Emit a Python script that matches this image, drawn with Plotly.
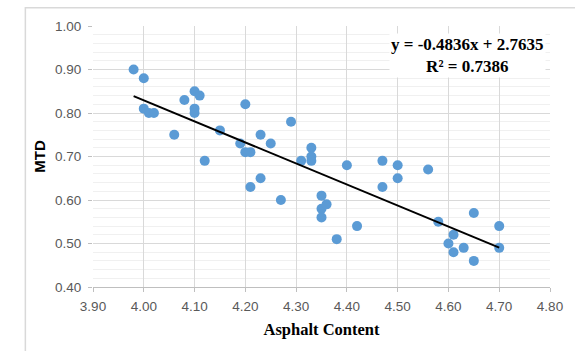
import plotly.graph_objects as go
import numpy as np

asphalt = [3.98, 4.00, 4.00, 4.01, 4.02, 4.06, 4.08, 4.10, 4.11, 4.10, 4.10, 4.12, 4.15,
           4.19, 4.20, 4.20, 4.21, 4.21, 4.23, 4.23, 4.25, 4.27, 4.29, 4.31, 4.33, 4.33,
           4.33, 4.35, 4.35, 4.35, 4.36, 4.38, 4.40, 4.42, 4.47, 4.47, 4.50, 4.50, 4.56,
           4.58, 4.60, 4.61, 4.61, 4.63, 4.65, 4.65, 4.70, 4.70]
mtd = [0.90, 0.88, 0.81, 0.80, 0.80, 0.75, 0.83, 0.85, 0.84, 0.81, 0.80, 0.69, 0.76,
       0.73, 0.82, 0.71, 0.71, 0.63, 0.75, 0.65, 0.73, 0.60, 0.78, 0.69, 0.72, 0.70,
       0.69, 0.61, 0.58, 0.56, 0.59, 0.51, 0.68, 0.54, 0.69, 0.63, 0.68, 0.65, 0.67,
       0.55, 0.50, 0.52, 0.48, 0.49, 0.57, 0.46, 0.54, 0.49]
trend_slope = -0.4836
trend_intercept = 2.7635
equation_text = "y = -0.4836x + 2.7635<br>R² = 0.7386"
x_ticks = [3.90, 4.00, 4.10, 4.20, 4.30, 4.40, 4.50, 4.60, 4.70, 4.80]
y_ticks = [0.40, 0.50, 0.60, 0.70, 0.80, 0.90, 1.00]

tx = [min(asphalt), max(asphalt)]
ty = [trend_slope * v + trend_intercept for v in tx]

fig = go.Figure()
fig.add_trace(go.Scatter(x=asphalt, y=mtd, mode="markers",
                         marker=dict(color="#5B9BD5", size=10, line=dict(width=0)),
                         showlegend=False, cliponaxis=False))
fig.add_trace(go.Scatter(x=tx, y=ty, mode="lines",
                         line=dict(color="black", width=2), showlegend=False))

tickfont = dict(family="Liberation Sans, Arial", size=13.5, color="#595959")
fig.update_layout(
    width=575, height=351,
    margin=dict(l=93, r=25, t=26, b=64),
    paper_bgcolor="white", plot_bgcolor="white",
    xaxis=dict(range=[3.90, 4.80], tickvals=x_ticks,
               ticktext=[f"{v:.2f}" for v in x_ticks], tickfont=tickfont,
               showgrid=True, gridcolor="#D9D9D9", gridwidth=1,
               showline=True, linecolor="#BFBFBF", linewidth=1,
               ticks="outside", ticklen=4, tickcolor="#BFBFBF",
               ticklabelstandoff=3,
               zeroline=False,
               title=dict(text="<b>Asphalt Content</b>",
                          font=dict(family="Liberation Serif, Times New Roman", size=16.5, color="black"),
                          standoff=10)),
    yaxis=dict(range=[0.40, 1.00], tickvals=y_ticks,
               ticktext=[f"{v:.2f}" for v in y_ticks], tickfont=tickfont,
               showgrid=True, gridcolor="#D9D9D9", gridwidth=1,
               minor=dict(dtick=0.02, showgrid=True, gridcolor="#F0F0F0", gridwidth=1),
               showline=False, ticks="outside", ticklen=4, tickcolor="#BFBFBF",
               ticklabelstandoff=4,
               zeroline=False,
               title=dict(text="<b>MTD</b>",
                          font=dict(family="Liberation Sans, Arial", size=15, color="black"),
                          standoff=5)),
)
fig.add_annotation(x=0.992, y=0.975, xref="paper", yref="paper",
                   xanchor="right", yanchor="top", align="center",
                   text="<b>" + equation_text + "</b>", showarrow=False,
                   bgcolor="white", borderpad=1,
                   font=dict(family="Liberation Serif, Times New Roman", size=17, color="black"))
fig.add_shape(type="rect", xref="paper", yref="paper",
              x0=-0.148, x1=1.3, y0=-0.5, y1=1.07,
              line=dict(color="#D9D9D9", width=1.5), layer="below")
fig.write_html("out.html")
